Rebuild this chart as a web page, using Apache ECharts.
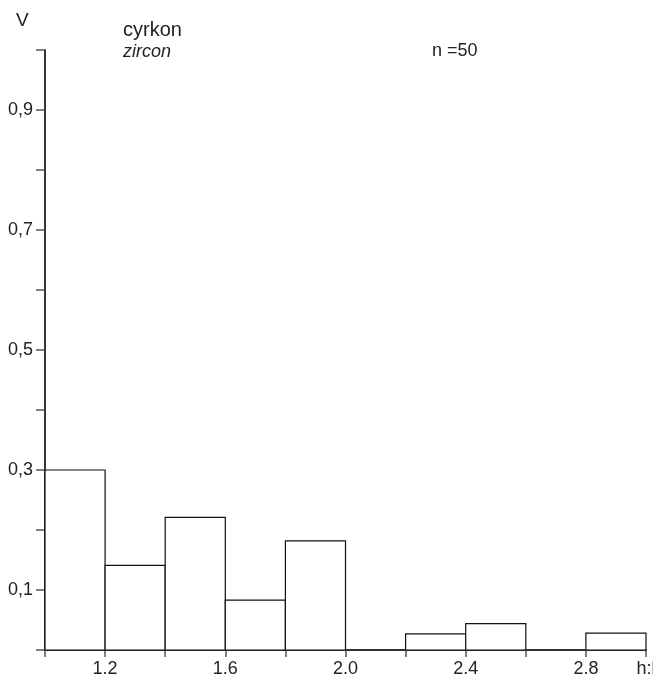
<!DOCTYPE html>
<html>
<head>
<meta charset="utf-8">
<script src="https://cdn.jsdelivr.net/npm/echarts@6/dist/echarts.min.js"></script>
<style>html,body{margin:0;padding:0;background:#fff}#c{width:653px;height:676px}</style>
</head>
<body>
<div id="c"></div>
<script>
// Histogram bins (h:l ratio) and relative frequencies V
const binStart = [1.0, 1.2, 1.4, 1.6, 1.8, 2.0, 2.2, 2.4, 2.6, 2.8];
const binEnd   = [1.2, 1.4, 1.6, 1.8, 2.0, 2.2, 2.4, 2.6, 2.8, 3.0];
const frequency = [0.30, 0.141, 0.221, 0.083, 0.182, 0, 0.027, 0.044, 0, 0.028];
const xTickLabels = ['1.2', '1.6', '2.0', '2.4', '2.8', 'h:l'];
const yTickLabels = ['0,1', '0,3', '0,5', '0,7', '0,9'];

const data = binStart.map((s, i) => [s, binEnd[i], frequency[i]]);
const FONT = '"Liberation Sans", Arial, sans-serif';

const chart = echarts.init(document.getElementById('c'), null, {renderer: 'canvas'});
chart.setOption({
  animation: false,
  backgroundColor: '#fff',
  grid: {left: 45, right: 7, top: 50, bottom: 26, containLabel: false, outerBoundsMode: 'none'},
  xAxis: {
    type: 'value', min: 1.0, max: 3.0, interval: 0.2,
    splitLine: {show: false},
    axisLine: {show: true, lineStyle: {color: '#333', width: 2}},
    axisTick: {show: true, length: 7, lineStyle: {color: '#555', width: 1.5}},
    axisLabel: {
      show: true, margin: 10, color: '#222', fontSize: 18, fontFamily: FONT,
      showMaxLabel: true, showMinLabel: true,
      formatter: v => {
        const i = Math.round((v - 1.0) / 0.2);
        if (i % 2 === 1) return xTickLabels[(i - 1) / 2];
        if (i === 10) return xTickLabels[5];
        return '';
      }
    }
  },
  yAxis: {
    type: 'value', min: 0, max: 1.0, interval: 0.1,
    splitLine: {show: false},
    axisLine: {show: true, lineStyle: {color: '#333', width: 2}},
    axisTick: {show: true, length: 9, lineStyle: {color: '#555', width: 1.5}},
    axisLabel: {
      show: true, margin: 12, color: '#222', fontSize: 18, fontFamily: FONT,
      formatter: v => {
        const i = Math.round(v * 10);
        return i % 2 === 1 ? yTickLabels[(i - 1) / 2] : '';
      }
    }
  },
  graphic: [
    {type: 'text', left: 16, top: 11, style: {text: 'V', font: '19px ' + FONT, fill: '#222'}},
    {type: 'text', left: 123, top: 20, style: {text: 'cyrkon', font: '20px ' + FONT, fill: '#222'}},
    {type: 'text', left: 123, top: 43, style: {text: 'zircon', font: 'italic 18px ' + FONT, fill: '#222'}},
    {type: 'text', left: 432, top: 42, style: {text: 'n =50', font: '18px ' + FONT, fill: '#222'}}
  ],
  series: [{
    type: 'custom',
    data: data,
    renderItem: (params, api) => {
      const v = api.value(2);
      if (!v) return null;
      const p0 = api.coord([api.value(0), v]);
      const p1 = api.coord([api.value(1), 0]);
      return {
        type: 'rect',
        shape: {x: p0[0], y: p0[1], width: p1[0] - p0[0], height: p1[1] - p0[1]},
        style: {fill: '#fff', stroke: '#111', lineWidth: 1.2}
      };
    }
  }]
});
</script>
</body>
</html>
